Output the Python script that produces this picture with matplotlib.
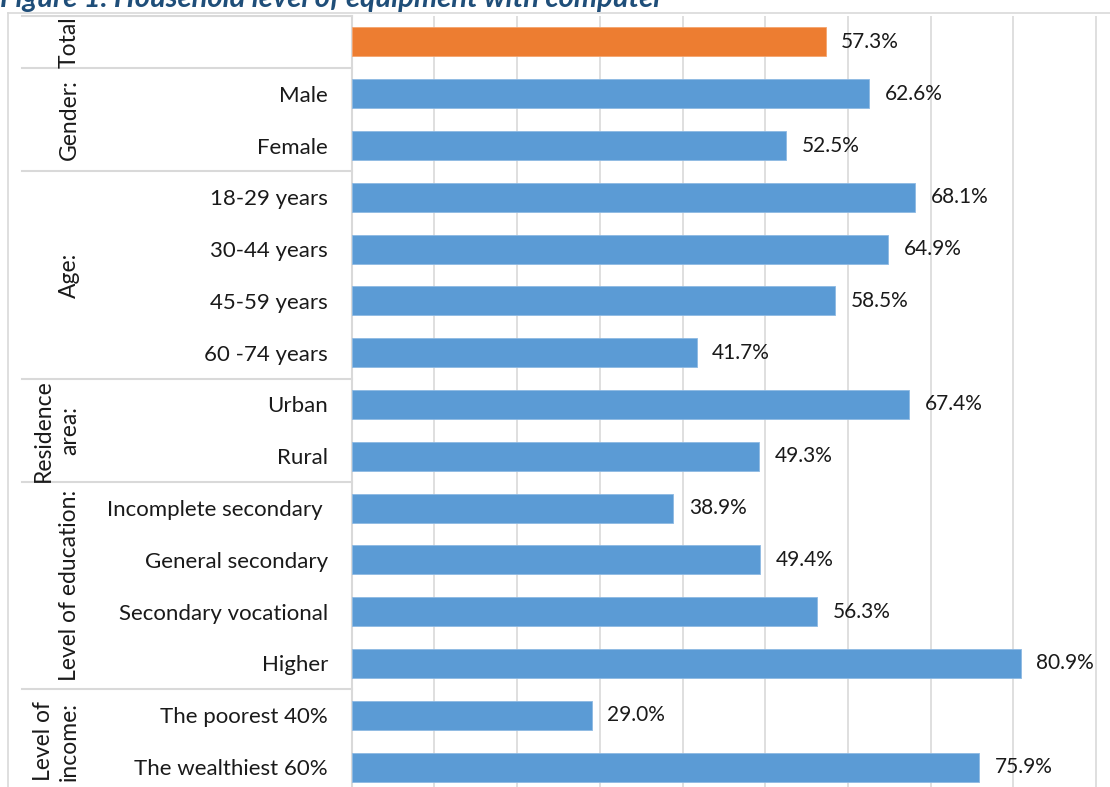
import numpy as np
import matplotlib.pyplot as plt
from matplotlib.lines import Line2D
from matplotlib import transforms

plt.rcParams['font.family'] = ['Lato', 'DejaVu Sans']

# data
categories = ['', 'Male', 'Female', '18-29 years', '30-44 years', '45-59 years',
              '60 -74 years', 'Urban', 'Rural', 'Incomplete secondary ',
              'General secondary', 'Secondary vocational', 'Higher',
              'The poorest 40%', 'The wealthiest 60%']
values = [57.3, 62.6, 52.5, 68.1, 64.9, 58.5, 41.7, 67.4, 49.3,
          38.9, 49.4, 56.3, 80.9, 29.0, 75.9]
groups = ['Total', 'Gender:', 'Age:', 'Residence\narea:', 'Level of education:',
          'Level of\nincome:']
group_sizes = [1, 2, 4, 2, 4, 2]
title = 'Figure 1. Household level of equipment with computer'

W, H = 1110, 787
fig = plt.figure(figsize=(W/100, H/100), dpi=100)
ax = fig.add_axes([351.7/W, 1 - 793/H, 1 - 351.7/W, 777/H])

y = np.arange(len(values))
colors = ['#ED7D31'] + ['#5B9BD5'] * (len(values) - 1)
edges = ['#F4A46E'] + ['#8DB9E3'] * (len(values) - 1)
ax.barh(y, values, height=0.56, color=colors, edgecolor=edges, linewidth=0.6, zorder=3)

for yi, v in zip(y, values):
    ax.annotate('{:.1f}%'.format(v), (v, yi), xytext=(11.3, 0), textcoords='offset points',
                va='center', ha='left', fontsize=15, color='#1a1a1a', zorder=4)

ax.set_xlim(0, (W - 351.7) / 8.27)
ax.set_ylim(len(values) - 0.5, -0.5)
ax.set_xticks(np.arange(10, 100, 10))
ax.set_xticklabels([])
ax.tick_params(axis='x', length=0)
ax.grid(axis='x', color='#d9d9d9', lw=1.2, zorder=0)
ax.set_yticks(y)
ax.set_yticklabels(categories, fontsize=16, color='#1a1a1a')
ax.tick_params(axis='y', length=0, pad=17)
for s in ['top', 'right', 'bottom']:
    ax.spines[s].set_visible(False)
ax.spines['left'].set_color('#d9d9d9')
ax.spines['left'].set_linewidth(1.5)

# table of groups on the left
tr = transforms.blended_transform_factory(fig.transFigure, ax.transData)
bounds = np.concatenate([[0], np.cumsum(group_sizes)]) - 0.5
for b in bounds[:-1]:
    ax.add_line(Line2D([22/W, 351.7/W], [b, b], transform=tr, color='#d9d9d9',
                       lw=1.5, clip_on=False))
for g, lo, hi in zip(groups, bounds[:-1], bounds[1:]):
    ax.text(80/W, (lo + hi) / 2, g, transform=tr, rotation=90, ha='right', va='center',
            multialignment='center', fontsize=16.5, color='#1a1a1a', linespacing=1.3)

# outer frame
fig.add_artist(Line2D([8/W, 1], [1 - 12.5/H, 1 - 12.5/H], color='#d9d9d9', lw=1.2))
fig.add_artist(Line2D([8/W, 8/W], [0, 1 - 12.5/H], color='#d9d9d9', lw=1.2))

fig.text(0.0, 1 - 7/H, title, ha='left', va='baseline', fontsize=21,
         fontweight='bold', style='italic', color='#1F4E79')

fig.savefig('out.png', dpi=100)
